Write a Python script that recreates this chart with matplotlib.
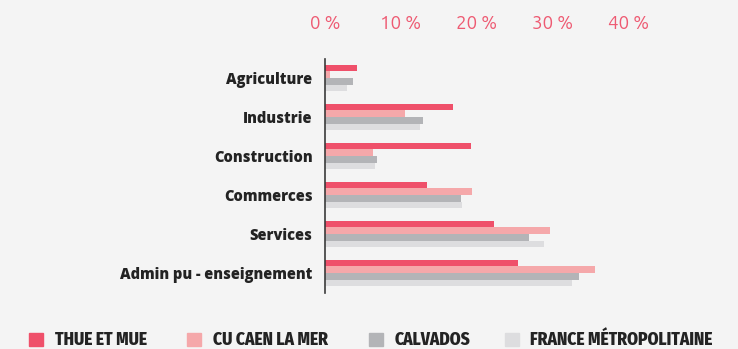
import matplotlib
matplotlib.use("Agg")
import matplotlib.pyplot as plt
import matplotlib.font_manager as fm
from matplotlib.patches import Rectangle
import numpy as np

categories = ["Agriculture", "Industrie", "Construction", "Commerces",
              "Services", "Admin pu - enseignement"]
series_names = ["THUE ET MUE", "CU CAEN LA MER", "CALVADOS", "FRANCE MÉTROPOLITAINE"]
thue_et_mue = [4.2, 16.9, 19.3, 13.5, 22.3, 25.5]
cu_caen = [0.6, 10.6, 6.3, 19.4, 29.7, 35.6]
calvados = [3.7, 12.9, 6.9, 17.9, 26.9, 33.5]
france = [2.9, 12.5, 6.6, 18.1, 28.9, 32.6]
x_ticks = [0, 10, 20, 30, 40]
x_tick_labels = ["0 %", "10 %", "20 %", "30 %", "40 %"]

colors = ["#ef506a", "#f5a8aa", "#b3b4b7", "#dddddf"]
bg = "#f4f4f4"


def font_file(name):
    for f in fm.fontManager.ttflist:
        if f.fname.endswith("/" + name):
            return f.fname
    return None


ub_light = font_file("Ubuntu-L.ttf")
cat_font = fm.FontProperties(family="Open Sans", weight=800, size=10.5)
tick_font = fm.FontProperties(fname=ub_light, size=13.5) if ub_light else \
    fm.FontProperties(family="Lato", size=13)
leg_font = fm.FontProperties(family="Fira Sans Condensed", weight=800, size=12.5)

fig = plt.figure(figsize=(7.38, 3.49), dpi=100, facecolor=bg)
W, H = 738, 349
ax = fig.add_axes([325 / W, 1 - 292.5 / H, 379 / W, (292.5 - 58.5) / H])
ax.set_facecolor(bg)

values = [thue_et_mue, cu_caen, calvados, france]
y = np.arange(len(categories))
h = 0.17
for j, vals in enumerate(values):
    ax.barh(y + (j - 1.5) * h, vals, height=h, color=colors[j], edgecolor="none")

ax.set_ylim(5.5, -0.5)
ax.set_xlim(0, 50)
ax.set_yticks(y)
ax.set_yticklabels(categories, fontproperties=cat_font, color="#232323")
ax.tick_params(axis="y", length=0, pad=9)
ax.xaxis.tick_top()
ax.set_xticks(x_ticks)
ax.set_xticklabels(x_tick_labels, fontproperties=tick_font, color="#ee5a72")
ax.tick_params(axis="x", length=0, pad=19)
for s in ["top", "right", "bottom"]:
    ax.spines[s].set_visible(False)
ax.spines["left"].set_color("#3a3a3a")
ax.spines["left"].set_linewidth(1.2)

# legend drawn along the bottom edge
sq_x = [29, 187, 369, 505]
txt_x = [55, 213, 395, 530]
for name, c, sx, tx in zip(series_names, colors, sq_x, txt_x):
    fig.patches.append(Rectangle((sx / W, 1 - 346 / H), 14 / W, 13 / H,
                                 transform=fig.transFigure, color=c))
    fig.text(tx / W, 1 - 340 / H, name, fontproperties=leg_font,
             color="#232323", va="center", ha="left")

fig.savefig("out.png", dpi=100, facecolor=bg)
